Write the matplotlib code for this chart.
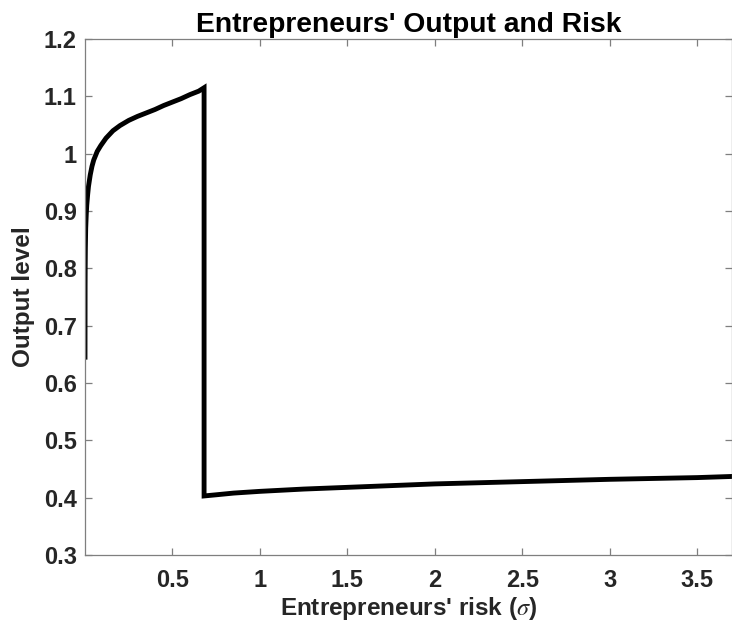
import numpy as np
import matplotlib
matplotlib.use('Agg')
import matplotlib.pyplot as plt

plt.rcParams['font.family'] = ['Liberation Sans', 'DejaVu Sans']
plt.rcParams['mathtext.fontset'] = 'stix'

# upper branch (low risk)
sigma_hi = [0.0, 0.0005, 0.001, 0.002, 0.004, 0.007, 0.01, 0.015, 0.02, 0.03,
            0.04, 0.05, 0.07, 0.09, 0.12, 0.16, 0.2, 0.25, 0.3, 0.35, 0.4,
            0.45, 0.5, 0.55, 0.6, 0.65, 0.681]
output_hi = [0.645, 0.77, 0.80, 0.835, 0.87, 0.893, 0.91, 0.928, 0.943, 0.963,
             0.978, 0.989, 1.004, 1.014, 1.027, 1.040, 1.049, 1.058, 1.065, 1.071, 1.077,
             1.084, 1.090, 1.096, 1.103, 1.109, 1.115]
# lower branch after the jump
sigma_lo = [0.681, 0.75, 0.85, 1.0, 1.25, 1.5, 1.75, 2.0, 2.5, 3.0, 3.5, 3.7]
output_lo = [0.403, 0.405, 0.408, 0.411, 0.415, 0.418, 0.421, 0.424, 0.428, 0.432, 0.435, 0.437]

xticks = [0.5, 1, 1.5, 2, 2.5, 3, 3.5]
xticklabels = ['0.5', '1', '1.5', '2', '2.5', '3', '3.5']
yticks = [0.3, 0.4, 0.5, 0.6, 0.7, 0.8, 0.9, 1.0, 1.1, 1.2]
yticklabels = ['0.3', '0.4', '0.5', '0.6', '0.7', '0.8', '0.9', '1', '1.1', '1.2']

fig = plt.figure(figsize=(7.32, 6.32), dpi=100)
ax = fig.add_axes([85/732, 77/632, 1 - 85/732, 516/632])

ax.plot(sigma_hi + sigma_lo, output_hi + output_lo, color='black', linewidth=3.5,
        solid_joinstyle='miter')

ax.set_xlim(0, 3.7)
ax.set_ylim(0.3, 1.2)
ax.set_xticks(xticks)
ax.set_xticklabels(xticklabels)
ax.set_yticks(yticks)
ax.set_yticklabels(yticklabels)

for s in ax.spines.values():
    s.set_color('#7f7f7f')
    s.set_linewidth(0.9)
ax.tick_params(direction='in', length=5, width=0.9, color='#7f7f7f',
               top=True, right=True, labelsize=17, labelcolor='#262626')
ax.tick_params(axis='x', pad=10)
ax.tick_params(axis='y', pad=6)
for lab in ax.get_xticklabels() + ax.get_yticklabels():
    lab.set_fontweight('bold')

ax.set_title("Entrepreneurs' Output and Risk", fontsize=20.3, fontweight='bold', pad=5)
ax.set_xlabel(r"Entrepreneurs' risk ($\sigma$)", fontsize=17.5, fontweight='bold',
              color='#262626', labelpad=2)
ax.set_ylabel('Output level', fontsize=17.5, fontweight='bold', color='#262626', labelpad=6)

plt.savefig('out.png', dpi=100)
